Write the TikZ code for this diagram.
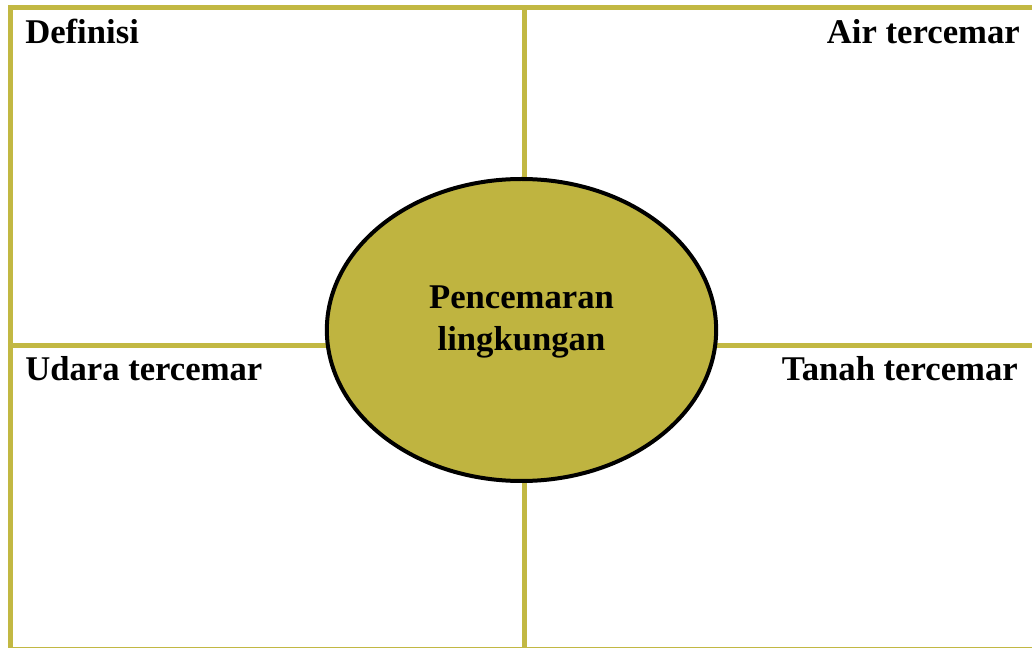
\documentclass[tikz,border=0pt]{standalone}
\usepackage{fontspec}
\setmainfont{Liberation Serif}
\usetikzlibrary{shapes.geometric}
\definecolor{framegold}{HTML}{C2B843}
\definecolor{topicgold}{HTML}{BFB440}
\tikzset{grid/.style={draw=framegold,line width=3.75pt},corner/.style={font=\bfseries\fontsize{26}{32}\selectfont,inner sep=0pt},topic/.style={ellipse,draw=black,line width=3pt,fill=topicgold,minimum width=292pt,minimum height=226.5pt,inner sep=0pt}}

\begin{document}
\begin{tikzpicture}[x=0.75pt,y=-0.75pt]
\useasboundingbox (0,0) rectangle (1032,648);
\clip (0,0) rectangle (1032,648);
\draw[grid] (10.5,8) rectangle (1036,649.5);
\draw[grid] (524,8) -- (524,650);
\draw[grid] (10.5,345.5) -- (1036,345.5);
\node[topic] (pollution) at (521.5,330) {};
\node[corner,align=center] (pollutiontext) at ([yshift=6pt]pollution.center) {Pencemaran\\lingkungan};
\node[corner,anchor=base west] (definition) at (25,44) {Definisi};
\node[corner,anchor=base east] (water) at (1020,44) {Air tercemar};
\node[corner,anchor=base west] (air) at (25,381) {Udara tercemar};
\node[corner,anchor=base east] (soil) at (1018,381) {Tanah tercemar};
\end{tikzpicture}
\end{document}
